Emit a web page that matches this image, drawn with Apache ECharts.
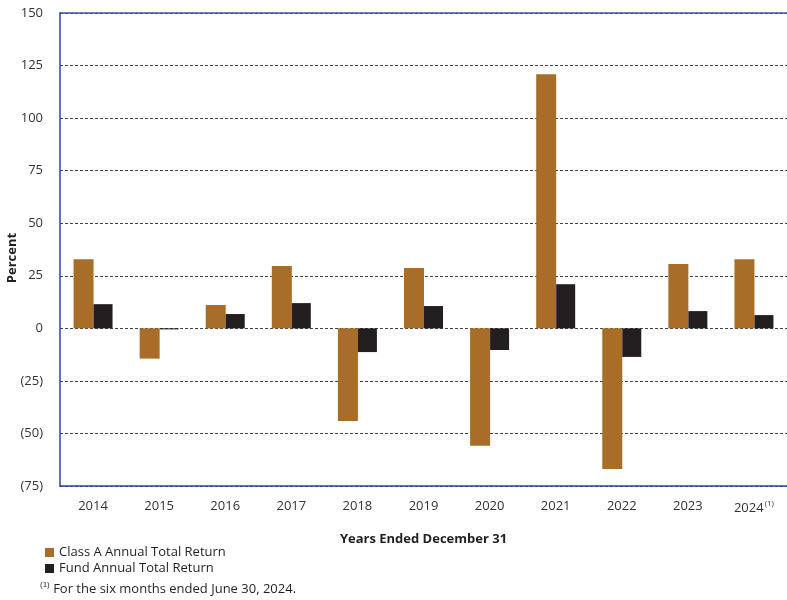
<!DOCTYPE html>
<html>
<head>
<meta charset="utf-8">
<script src="https://cdn.jsdelivr.net/npm/echarts@6/dist/echarts.min.js"></script>
<style>html,body{margin:0;padding:0;background:#fff}#c{width:787px;height:600px}</style>
</head>
<body>
<div id="c"></div>
<script>
const categories = ['2014','2015','2016','2017','2018','2019','2020','2021','2022','2023','2024'];
const classAReturn = [32.9, -14.4, 11.1, 29.6, -44.1, 28.7, -55.9, 120.9, -66.9, 30.6, 32.9];
const fundReturn = [11.5, -0.5, 6.8, 12.0, -11.3, 10.6, -10.3, 21.0, -13.6, 8.2, 6.3];
const seriesNames = ['Class A Annual Total Return', 'Fund Annual Total Return'];
const footnoteText = 'For the six months ended June 30, 2024.';

const FONT = '"Open Sans", "Noto Sans", sans-serif';
const chart = echarts.init(document.getElementById('c'), null, {renderer: 'canvas'});
chart.setOption({
  animation: false,
  textStyle: {fontFamily: FONT},
  grid: {left: 60, right: 0, top: 13, bottom: 114, containLabel: false, outerBoundsMode: 'none'},
  legend: {
    orient: 'vertical', left: 40, top: 541, itemWidth: 9, itemHeight: 9, itemGap: 3,
    icon: 'rect',
    textStyle: {fontFamily: FONT, fontSize: 13, color: '#231F20'},
    data: seriesNames
  },
  xAxis: [{
    type: 'category', data: categories, position: 'bottom',
    axisLine: {show: true, onZero: false, lineStyle: {color: '#2B47A0', width: 1.5}},
    axisTick: {show: false},
    axisLabel: {
      interval: 0,
      color: '#333', fontSize: 13, margin: 14, fontFamily: FONT,
      formatter: function (v) { return v === '2024' ? v + '{sup|(1)}' : v; },
      rich: {sup: {fontSize: 8, verticalAlign: 'top', padding: [0,0,8,1], color: '#333', fontFamily: FONT}}
    },
    name: 'Years Ended December 31', nameLocation: 'middle', nameGap: 47,
    nameTextStyle: {fontWeight: 'bold', fontSize: 13, color: '#231F20', fontFamily: FONT}
  }, {
    type: 'category', data: categories, position: 'top',
    axisLine: {show: true, onZero: false, lineStyle: {color: '#3A5299', width: 1.5, type: [3, 1]}},
    axisTick: {show: false}, axisLabel: {show: false}
  }],
  yAxis: {
    type: 'value', min: -75, max: 150, interval: 25,
    axisLine: {show: true, onZero: false, lineStyle: {color: '#2B47A0', width: 1.5}},
    axisTick: {show: false},
    axisLabel: {
      color: '#333', fontSize: 13, margin: 17, fontFamily: FONT,
      formatter: function (v) { return v < 0 ? '(' + Math.abs(v) + ')' : String(v); }
    },
    splitLine: {show: true, lineStyle: {color: '#444', width: 1, type: [3, 2]}}
  },
  series: [{
    name: seriesNames[0], type: 'bar', data: classAReturn, barWidth: 20, barGap: '0%',
    itemStyle: {color: '#A86D28'}
  }, {
    name: seriesNames[1], type: 'bar', data: fundReturn, barWidth: 19, barGap: '0%',
    itemStyle: {color: '#231F20'}
  }],
  graphic: [{
    type: 'text', x: 12, y: 258, rotation: Math.PI / 2,
    style: {text: 'Percent', fill: '#231F20', font: 'bold 13px ' + FONT, align: 'center', verticalAlign: 'middle'}
  }, {
    type: 'text', left: 40, top: 581,
    style: {text: '{sup|(1)} ' + footnoteText, fill: '#231F20', font: '13px ' + FONT,
      rich: {sup: {fontSize: 8, verticalAlign: 'top', padding: [0,0,8,0], fill: '#231F20'}}}
  }]
});
</script>
</body>
</html>
